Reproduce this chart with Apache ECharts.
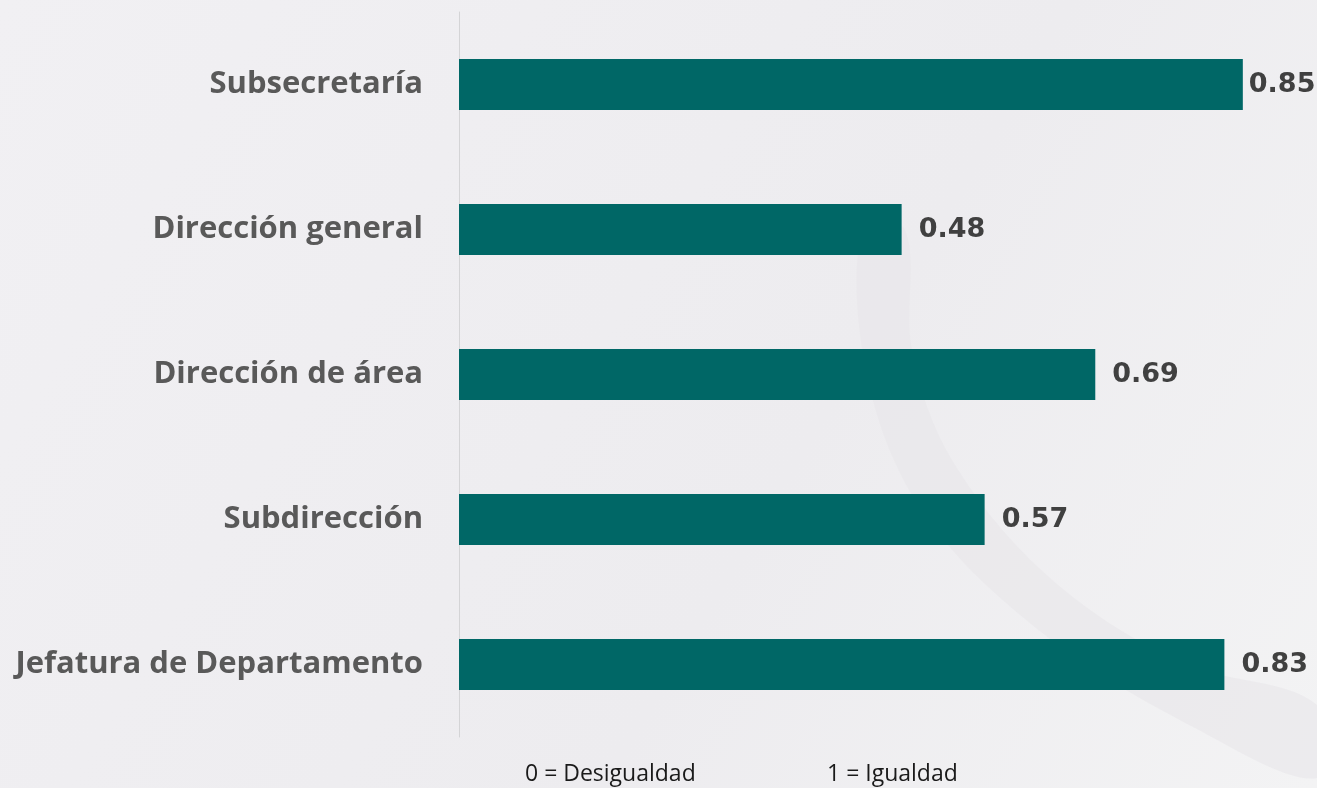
<!DOCTYPE html>
<html>
<head>
  <meta charset="utf-8">
  <title>Índice de igualdad</title>
  <script src="https://cdn.jsdelivr.net/npm/echarts@6/dist/echarts.min.js"></script>
  <style>
    html, body { margin: 0; padding: 0; }
    #main { width: 1317px; height: 788px; }
  </style>
</head>
<body>
  <div id="main"></div>
  <script type="text/javascript">
    // niveles de puesto (de arriba a abajo) y su valor
    var categorias = ['Subsecretaría', 'Dirección general', 'Dirección de área', 'Subdirección', 'Jefatura de Departamento'];
    var valores = [0.85, 0.48, 0.69, 0.57, 0.83];
    var notas = ['0 = Desigualdad', '1 = Igualdad'];

    var myChart = echarts.init(document.getElementById('main'));

    var datos = valores.map(function (v, i) {
      return {
        value: v,
        label: { distance: i === 0 ? 6 : 17 }
      };
    });

    var option = {
      backgroundColor: {
        type: 'linear', x: 0, y: 0, x2: 1, y2: 1,
        colorStops: [
          { offset: 0, color: '#f1f0f3' },
          { offset: 0.6, color: '#edecef' },
          { offset: 1, color: '#f3f3f4' }
        ]
      },
      textStyle: { fontFamily: 'Open Sans' },
      grid: { left: 459, right: 17, top: 12, bottom: 51 },
      xAxis: {
        type: 'value',
        min: 0,
        max: 0.912,
        show: false
      },
      yAxis: {
        type: 'category',
        inverse: true,
        data: categorias,
        axisLine: { lineStyle: { color: '#d4d4d6', width: 1 } },
        axisTick: { show: false },
        axisLabel: {
          margin: 36,
          color: '#595959',
          fontFamily: 'Open Sans',
          fontWeight: 'bold',
          fontSize: 31
        }
      },
      series: [{
        type: 'bar',
        data: datos,
        barWidth: 51,
        itemStyle: { color: '#006766' },
        label: {
          show: true,
          position: 'right',
          color: '#404040',
          fontFamily: 'DejaVu Sans',
          fontWeight: 'bold',
          fontSize: 27,
          formatter: function (p) { return p.value.toFixed(2); }
        }
      }],
      graphic: [
        // curva decorativa del fondo
        {
          type: 'polygon', z: -10, silent: true,
          shape: {
            smooth: 0.35,
            points: [[862, 230], [868, 380], [925, 515], [1045, 635], [1195, 728], [1317, 778],
                     [1317, 705], [1180, 662], [1050, 578], [952, 460], [912, 350], [905, 230]]
          },
          style: { fill: '#e7e6ea', opacity: 0.6 }
        },
        { type: 'text', left: 525, top: 763, style: { text: notas[0], fill: '#1a1a1a', font: '23px "Open Sans"' } },
        { type: 'text', left: 827, top: 763, style: { text: notas[1], fill: '#1a1a1a', font: '23px "Open Sans"' } }
      ]
    };

    myChart.setOption(option);
  </script>
</body>
</html>
